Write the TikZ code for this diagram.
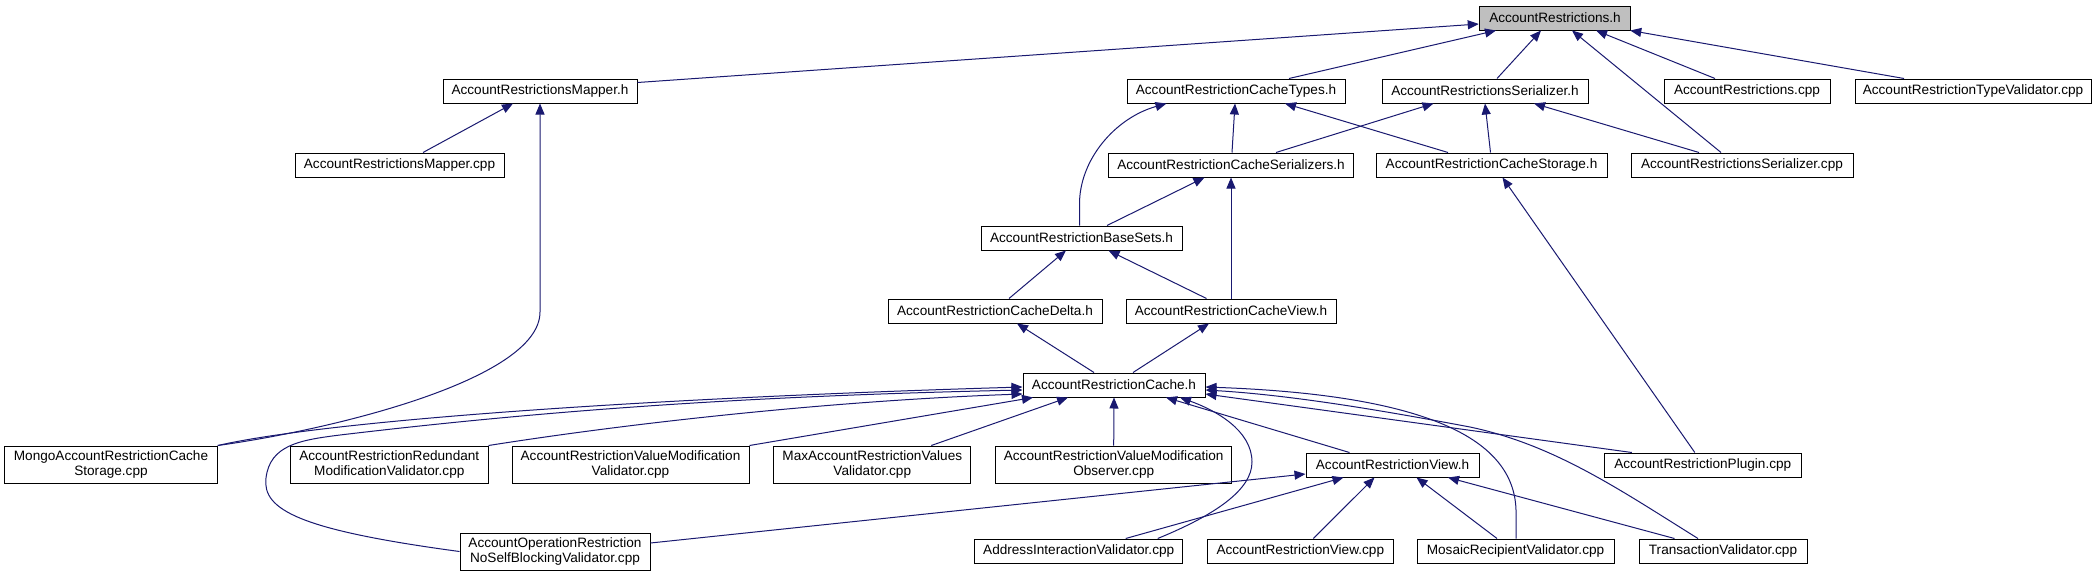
\documentclass[tikz,border=0pt]{standalone}
\usepackage{fontspec}
\setmainfont{Liberation Sans}
\usetikzlibrary{arrows.meta}
\definecolor{edgeblue}{RGB}{25,25,112}
\definecolor{rootgray}{RGB}{191,191,191}
\begin{document}
\begin{tikzpicture}[x=1pt,y=-1pt,
  box/.style={draw=black, line width=1pt, fill=white, rectangle, inner sep=0pt,
    minimum height=24pt, font=\fontsize{13.6}{14.8}\selectfont, align=center},
  boxtwo/.style={box, minimum height=37pt},
  edge/.style={draw=edgeblue, line width=1pt, -{Triangle[length=11pt,width=9pt]}}]
\useasboundingbox (0,0) rectangle (2094,576);
\fill[white] (0,0) rectangle (2094,576);

% nodes
\node[box, fill=rootgray, minimum width=151.5pt] (R) at (1555,18) {AccountRestrictions.h};
\node[box, minimum width=194pt] (mapperh) at (540,91) {AccountRestrictionsMapper.h};
\node[box, minimum width=218pt] (types) at (1236,91) {AccountRestrictionCacheTypes.h};
\node[box, minimum width=206pt] (serh) at (1485,91) {AccountRestrictionsSerializer.h};
\node[box, minimum width=166pt] (rcpp) at (1747,91) {AccountRestrictions.cpp};
\node[box, minimum width=236pt] (tv) at (1973,91) {AccountRestrictionTypeValidator.cpp};
\node[box, minimum width=209pt] (mappercpp) at (399.5,165) {AccountRestrictionsMapper.cpp};
\node[box, minimum width=244.5pt] (cser) at (1231,165) {AccountRestrictionCacheSerializers.h};
\node[box, minimum width=231pt] (cstor) at (1491.5,165) {AccountRestrictionCacheStorage.h};
\node[box, minimum width=222pt] (sercpp) at (1742,165) {AccountRestrictionsSerializer.cpp};
\node[box, minimum width=201pt] (base) at (1081.5,238) {AccountRestrictionBaseSets.h};
\node[box, minimum width=214pt] (cdelta) at (995,311) {AccountRestrictionCacheDelta.h};
\node[box, minimum width=210pt] (cview) at (1231,311) {AccountRestrictionCacheView.h};
\node[box, minimum width=182pt] (cache) at (1114,385) {AccountRestrictionCache.h};
\node[boxtwo, minimum width=212.5pt] (mongo) at (111,464.5) {MongoAccountRestrictionCache\\Storage.cpp};
\node[boxtwo, minimum width=197.4pt] (redundant) at (389.3,464.5) {AccountRestrictionRedundant\\ModificationValidator.cpp};
\node[boxtwo, minimum width=237pt] (valmod) at (630.5,464.5) {AccountRestrictionValueModification\\Validator.cpp};
\node[boxtwo, minimum width=197.3pt] (maxv) at (872.3,464.5) {MaxAccountRestrictionValues\\Validator.cpp};
\node[boxtwo, minimum width=236.5pt] (observer) at (1113.7,464.5) {AccountRestrictionValueModification\\Observer.cpp};
\node[box, minimum width=173pt] (viewh) at (1392.5,465) {AccountRestrictionView.h};
\node[box, minimum width=196.5pt] (plugin) at (1702.8,465) {AccountRestrictionPlugin.cpp};
\node[boxtwo, minimum width=190pt] (noself) at (555,551.5) {AccountOperationRestriction\\NoSelfBlockingValidator.cpp};
\node[box, minimum width=208.5pt] (addr) at (1078.7,551) {AddressInteractionValidator.cpp};
\node[box, minimum width=185.4pt] (vcpp) at (1300.3,551) {AccountRestrictionView.cpp};
\node[box, minimum width=197pt] (mosaic) at (1515.5,551) {MosaicRecipientValidator.cpp};
\node[box, minimum width=168pt] (trans) at (1723,551) {TransactionValidator.cpp};

% edges into AccountRestrictions.h
\draw[edge] ([yshift=-4pt]mapperh.north east) -- ([yshift=-6pt]R.west);
\draw[edge] ([xshift=53pt]types.north) -- ([xshift=-59pt]R.south);
\draw[edge] ([xshift=12pt]serh.north) -- ([xshift=-14pt]R.south);
\draw[edge] ([xshift=-21pt]sercpp.north) -- ([xshift=17pt]R.south);
\draw[edge] ([xshift=-32pt]rcpp.north) -- ([xshift=41pt]R.south);
\draw[edge] ([xshift=-69pt]tv.north) -- ([xshift=-1pt]R.south east);

% mapper
\draw[edge] ([xshift=23.5pt]mappercpp.north) -- ([xshift=-27pt]mapperh.south);
\draw[edge] (mongo.north east) .. controls (330,430) and (540,380) .. (540,312) -- (mapperh.south);

% cache types / serializer
\draw[edge] ([xshift=1pt]cser.north) -- ([xshift=-1pt]types.south);
\draw[edge] ([xshift=-2pt]base.north) -- (1079.5,205) .. controls (1079,160) and (1115,118) .. ([xshift=-69.5pt]types.south);
\draw[edge] ([xshift=-43.5pt]cstor.north) -- ([xshift=49pt]types.south);
\draw[edge] ([xshift=45pt]cser.north) -- ([xshift=-51.5pt]serh.south);
\draw[edge] ([xshift=-1pt]cstor.north) -- (serh.south);
\draw[edge] ([xshift=-43pt]sercpp.north) -- ([xshift=49pt]serh.south);
\draw[edge] ([xshift=-8pt]plugin.north) -- ([xshift=11pt]cstor.south);

% base sets, serializers
\draw[edge] ([xshift=25.5pt]base.north) -- ([xshift=-26.5pt]cser.south);
\draw[edge] (cview.north) -- (cser.south);
\draw[edge] ([xshift=14pt]cdelta.north) -- ([xshift=-15.5pt]base.south);
\draw[edge] ([xshift=-24.5pt]cview.north) -- ([xshift=27pt]base.south);
\draw[edge] ([xshift=-20pt]cache.north) -- ([xshift=22pt]cdelta.south);
\draw[edge] ([xshift=19pt]cache.north) -- ([xshift=-22pt]cview.south);

% into cache.h
\draw[edge] (mongo.north east) .. controls (330,420) and (650,398) .. ([yshift=-2pt]cache.west);
\draw[edge] (noself.west) .. controls (300,530) and (262,510) .. (266,478)
   .. controls (270,445) and (300,440) .. (340,435)
   .. controls (550,410) and (750,396) .. ([yshift=-5pt]cache.west);
\draw[edge] (redundant.north east) .. controls (650,420) and (850,400) .. ([yshift=-9pt]cache.west);
\draw[edge] (valmod.north east) -- ([xshift=-81pt]cache.south);
\draw[edge] ([xshift=59pt]maxv.north) -- ([xshift=-46pt]cache.south);
\draw[edge] (observer.north) -- (cache.south);
\draw[edge] ([xshift=-43pt]viewh.north) -- ([xshift=52pt]cache.south);
\draw[edge] ([xshift=79pt]addr.north) .. controls (1215,515) and (1252,490) .. (1252,462)
   .. controls (1252,430) and (1215,410) .. ([xshift=66pt]cache.south);
\draw[edge] ([xshift=0.5pt]mosaic.north) -- (1516,510) .. controls (1514,440) and (1430,395) .. ([yshift=-2pt]cache.east);
\draw[edge] ([xshift=-25pt]trans.north) .. controls (1620,490) and (1555,445) .. (1470,427)
   .. controls (1380,410) and (1290,395) .. ([yshift=-5pt]cache.east);
\draw[edge] ([xshift=-71pt]plugin.north) -- ([yshift=-9pt]cache.east);

% into view.h
\draw[edge] ([yshift=8.5pt]noself.east) -- ([yshift=-9pt]viewh.west);
\draw[edge] ([xshift=47pt]addr.north) -- ([xshift=-49pt]viewh.south);
\draw[edge] ([xshift=13pt]vcpp.north) -- ([xshift=-18pt]viewh.south);
\draw[edge] ([xshift=-18.5pt]mosaic.north) -- ([xshift=24pt]viewh.south);
\draw[edge] ([xshift=-48.5pt]trans.north) -- ([xshift=55.5pt]viewh.south);
\end{tikzpicture}
\end{document}
